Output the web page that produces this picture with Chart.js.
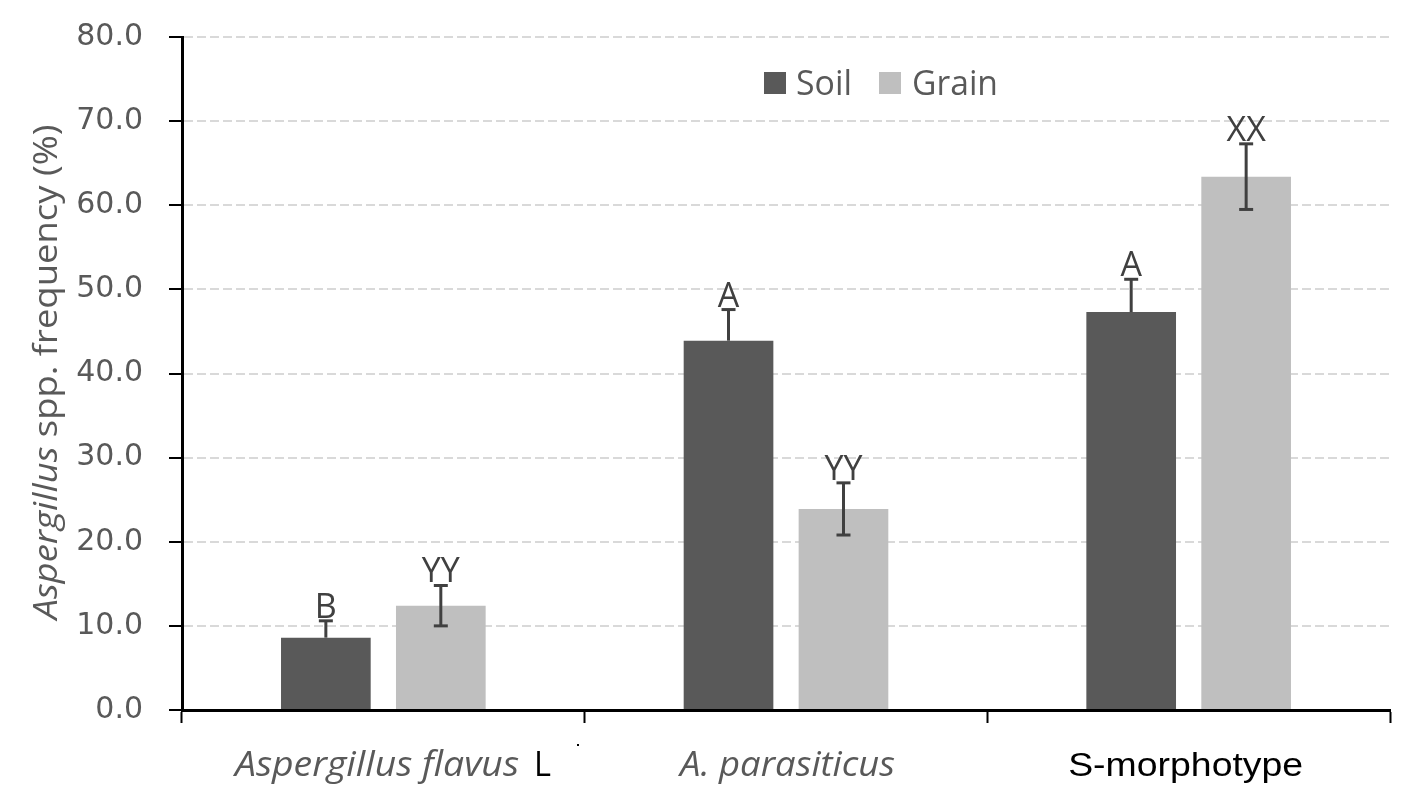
<!DOCTYPE html>
<html><head><meta charset="utf-8">
<script src="https://cdn.jsdelivr.net/npm/chart.js@4/dist/chart.umd.min.js"></script>
<style>html,body{margin:0;padding:0;background:#fff}#wrap{width:1418px;height:807px}</style>
</head><body><div id="wrap"><canvas id="c" width="1418" height="807"></canvas></div>
<script>
const categories = ["Aspergillus flavus L", "A. parasiticus", "S-morphotype"];
const soilValues = [8.6, 43.9, 47.3];
const soilErr = [2.0, 3.7, 3.9];
const grainValues = [12.4, 23.9, 63.4];
const grainErr = [2.4, 3.1, 3.9];
const soilLetters = ["B", "A", "A"];
const grainLetters = ["YY", "YY", "XX"];
const yTicks = [0, 10, 20, 30, 40, 50, 60, 70, 80];

const TXT = '#595959';
const SANS = '"Open Sans", "Noto Sans", sans-serif';

// draw text left-aligned at x, horizontally scaled to a target width
function fitText(ctx, text, x, y, font, width) {
  ctx.save();
  ctx.font = font;
  const w = ctx.measureText(text).width;
  const k = width ? width / w : 1;
  ctx.translate(x, y);
  ctx.scale(k, 1);
  ctx.textAlign = 'left';
  ctx.fillText(text, 0, 0);
  ctx.restore();
}

const overlay = {
  id: 'overlay',
  afterDatasetsDraw(chart) {
    const ctx = chart.ctx, y = chart.scales.y, x = chart.scales.x;
    ctx.save();
    ctx.strokeStyle = '#404040'; ctx.lineWidth = 3; ctx.lineCap = 'butt';
    const sets = [[soilValues, soilErr, false, soilLetters], [grainValues, grainErr, true, grainLetters]];
    sets.forEach((s, di) => {
      const meta = chart.getDatasetMeta(di);
      s[0].forEach((v, i) => {
        const bx = meta.data[i].x;
        const top = y.getPixelForValue(v + s[1][i]);
        const bot = s[2] ? y.getPixelForValue(v - s[1][i]) : y.getPixelForValue(v);
        ctx.beginPath(); ctx.moveTo(bx, top); ctx.lineTo(bx, bot); ctx.stroke();
        ctx.beginPath(); ctx.moveTo(bx - 7, top); ctx.lineTo(bx + 7, top); ctx.stroke();
        if (s[2]) { ctx.beginPath(); ctx.moveTo(bx - 7, bot); ctx.lineTo(bx + 7, bot); ctx.stroke(); }
        ctx.fillStyle = '#404040'; ctx.font = '34px ' + SANS;
        ctx.textAlign = 'center'; ctx.textBaseline = 'alphabetic';
        ctx.fillText(s[3][i], bx, top - 3);
      });
    });
    // legend
    ctx.fillStyle = '#595959'; ctx.fillRect(764, 72, 22, 22);
    ctx.fillStyle = '#bfbfbf'; ctx.fillRect(879, 72, 22, 22);
    ctx.fillStyle = TXT; ctx.textBaseline = 'alphabetic';
    fitText(ctx, 'Soil', 796, 95, '34px ' + SANS, 56);
    fitText(ctx, 'Grain', 912, 95, '34px ' + SANS, 86);
    // category labels
    const base = 776;
    ctx.fillStyle = TXT;
    fitText(ctx, 'Aspergillus flavus', 235, base, 'italic 34px ' + SANS, 284);
    ctx.fillStyle = '#000';
    fitText(ctx, 'L', 534, base, '34px ' + SANS, 17);
    ctx.fillStyle = TXT;
    fitText(ctx, 'A. parasiticus', 680, base, 'italic 34px ' + SANS, 215);
    ctx.fillStyle = '#000';
    const sw = 235;
    fitText(ctx, 'S-morphotype', x.getPixelForValue(2) - sw / 2 - 3, base, '34px "Liberation Sans Narrow", "Liberation Sans", sans-serif', sw);
    ctx.fillRect(577, 744, 2, 2);
    // y title
    ctx.save();
    ctx.translate(48, 372); ctx.rotate(-Math.PI / 2);
    ctx.fillStyle = TXT; ctx.textBaseline = 'middle';
    const a = 'Aspergillus', b = ' spp. frequency (%)';
    ctx.font = 'italic 32px ' + SANS; const wa = ctx.measureText(a).width;
    ctx.font = '32px ' + SANS; const wb = ctx.measureText(b).width;
    const k = 495 / (wa + wb);
    ctx.scale(k, 1);
    ctx.textAlign = 'left';
    ctx.font = 'italic 32px ' + SANS;
    ctx.fillText(a, -(wa + wb) / 2, 0);
    ctx.font = '32px ' + SANS;
    ctx.fillText(b, -(wa + wb) / 2 + wa, 0);
    ctx.restore();
    ctx.restore();
  }
};

new Chart(document.getElementById('c'), {
  type: 'bar',
  data: {
    labels: categories,
    datasets: [
      { label: 'Soil', data: soilValues, backgroundColor: '#595959', categoryPercentage: 0.571, barPercentage: 0.78 },
      { label: 'Grain', data: grainValues, backgroundColor: '#bfbfbf', categoryPercentage: 0.571, barPercentage: 0.78 }
    ]
  },
  options: {
    responsive: false, animation: false, devicePixelRatio: 1,
    layout: { padding: { top: 37, right: 28, left: 0, bottom: 0 } },
    plugins: { legend: { display: false }, tooltip: { enabled: false } },
    scales: {
      x: {
        afterFit(s) { s.height = 97; s.paddingLeft = 0; s.paddingRight = 0; },
        ticks: { display: false },
        grid: { drawOnChartArea: false, offset: true, tickLength: 13, tickColor: '#000', tickWidth: 2 },
        border: { color: '#000', width: 3 }
      },
      y: {
        min: 0, max: 80,
        afterFit(s) { s.width = 182; s.paddingTop = 0; s.paddingBottom = 0; },
        afterBuildTicks(s) { s.ticks = yTicks.map(v => ({ value: v })); },
        ticks: { color: TXT, font: { family: '"DejaVu Sans", sans-serif', size: 30 }, padding: 26, callback: v => v.toFixed(1) },
        grid: { color: c => c.tick && c.tick.value === 0 ? 'rgba(0,0,0,0)' : '#d9d9d9', lineWidth: 2, tickLength: 13, tickColor: '#000', tickWidth: 2, tickBorderDash: [] },
        border: { color: '#000', width: 3, dash: [9, 4] }
      }
    }
  },
  plugins: [overlay]
});
</script></body></html>
